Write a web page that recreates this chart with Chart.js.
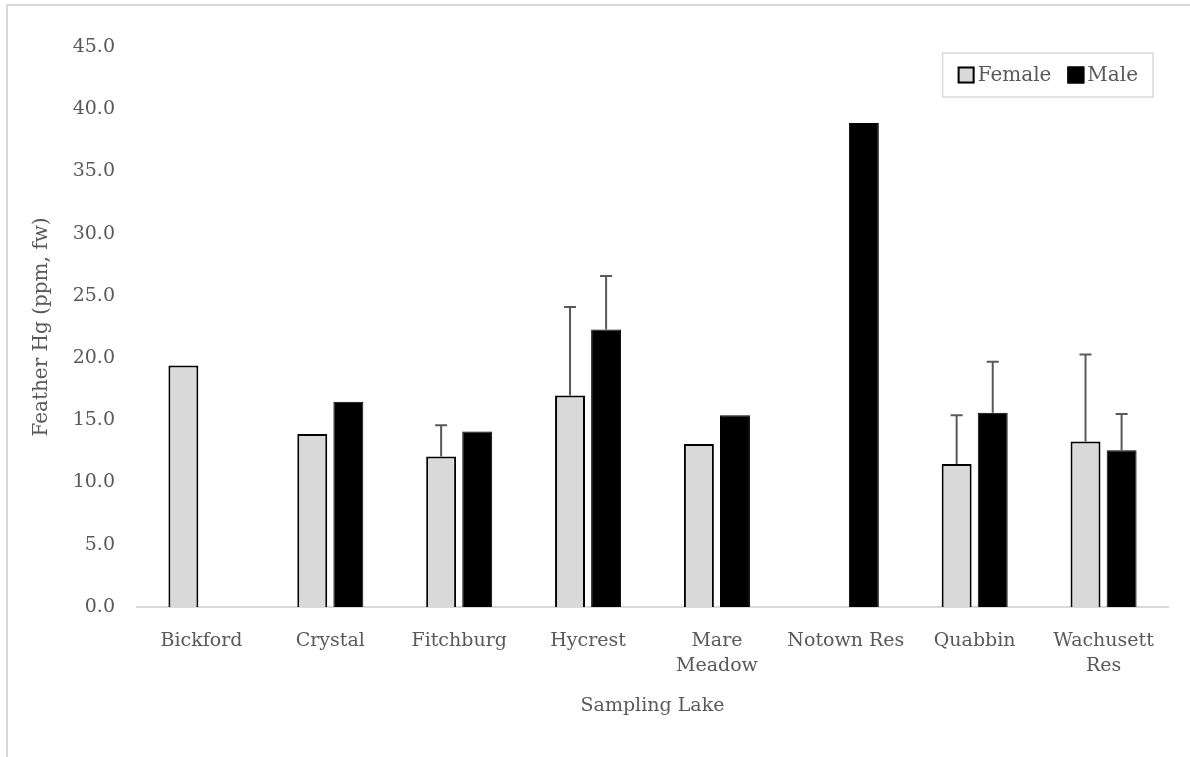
<!DOCTYPE html>
<html>
<head>
<meta charset="utf-8">
<script src="https://cdn.jsdelivr.net/npm/chart.js@4.4.1/dist/chart.umd.min.js"></script>
<style>
  body { margin: 0; background: #fff; }
  #wrap { position: relative; width: 1190px; height: 757px; }
</style>
</head>
<body>
<div id="wrap"><canvas id="hg-chart" width="1190" height="757"></canvas></div>
<script>
const lakes = ["Bickford", "Crystal", "Fitchburg", "Hycrest", ["Mare", "Meadow"], "Notown Res", "Quabbin", ["Wachusett", "Res"]];
const female = [19.4, 13.9, 12.1, 17.0, 13.1, null, 11.5, 13.3];
const male = [null, 16.5, 14.1, 22.3, 15.4, 38.9, 15.6, 12.6];
// upper error (sd), null where no bar shown
const femaleErr = [null, null, 2.5, 7.1, null, null, 3.9, 7.0];
const maleErr = [null, null, null, 4.3, null, null, 4.1, 2.9];
const yTicks = [0, 5, 10, 15, 20, 25, 30, 35, 40, 45];

const FONT = "'DejaVu Serif', serif";
const GREY = "#595959";

const errorBars = {
  id: "errorBars",
  afterDatasetsDraw(chart){
    const ctx = chart.ctx, y = chart.scales.y;
    chart.data.datasets.forEach((ds, di) => {
      const meta = chart.getDatasetMeta(di);
      (ds.errors || []).forEach((e, i) => {
        if (e == null || ds.data[i] == null) return;
        const bar = meta.data[i];
        const top = y.getPixelForValue(ds.data[i] + e);
        ctx.save();
        ctx.strokeStyle = GREY;
        ctx.lineWidth = 2;
        ctx.beginPath();
        ctx.moveTo(bar.x, bar.y);
        ctx.lineTo(bar.x, top);
        ctx.moveTo(bar.x - 6, top);
        ctx.lineTo(bar.x + 6, top);
        ctx.stroke();
        ctx.restore();
      });
    });
  }
};

const frameAndLegend = {
  id: "frameAndLegend",
  beforeDraw(chart){
    const ctx = chart.ctx;
    ctx.save();
    ctx.strokeStyle = "#d9d9d9";
    ctx.lineWidth = 2;
    ctx.beginPath();
    ctx.moveTo(7, 800);
    ctx.lineTo(7, 5);
    ctx.lineTo(1200, 5);
    ctx.stroke();
    ctx.restore();
  },
  afterDraw(chart){
    const ctx = chart.ctx, area = chart.chartArea;
    const right = area.right - 15, top = area.top + 6, h = 44;
    ctx.save();
    ctx.font = "20px " + FONT;
    const sq = 17, gapIn = 3, gapOut = 16, pad = 15;
    const items = chart.data.datasets.map(ds => ({ label: ds.label, fill: ds.backgroundColor, w: ctx.measureText(ds.label).width }));
    let w = pad * 2;
    items.forEach((it, i) => { w += sq + gapIn + it.w + (i ? gapOut : 0); });
    const left = right - w;
    ctx.fillStyle = "#fff";
    ctx.fillRect(left, top, w, h);
    ctx.strokeStyle = "#d9d9d9";
    ctx.lineWidth = 1.5;
    ctx.strokeRect(left, top, w, h);
    let x = left + pad;
    const cy = top + h / 2;
    items.forEach((it, i) => {
      if (i) x += gapOut;
      ctx.fillStyle = it.fill;
      ctx.fillRect(x, cy - sq / 2, sq, sq);
      ctx.strokeStyle = "#000";
      ctx.lineWidth = 2;
      ctx.strokeRect(x + 1, cy - sq / 2 + 1, sq - 2, sq - 2);
      x += sq + gapIn;
      ctx.fillStyle = GREY;
      ctx.textBaseline = "middle";
      ctx.fillText(it.label, x, cy + 1);
      x += it.w;
    });
    ctx.restore();
  }
};

new Chart(document.getElementById("hg-chart"), {
  type: "bar",
  data: {
    labels: lakes,
    datasets: [
      { label: "Female", data: female, errors: femaleErr, backgroundColor: "#d9d9d9", borderColor: "#000", borderWidth: 2 },
      { label: "Male", data: male, errors: maleErr, backgroundColor: "#000", borderColor: "#000", borderWidth: 1 }
    ]
  },
  options: {
    responsive: false,
    animation: false,
    categoryPercentage: 0.56,
    barPercentage: 0.83,
    layout: { padding: { top: 47, right: 22, left: 0, bottom: 0 } },
    plugins: { legend: { display: false }, tooltip: { enabled: false } },
    scales: {
      x: {
        grid: { display: false, drawTicks: false },
        border: { display: true, color: "#d9d9d9", width: 2 },
        ticks: { color: GREY, font: { family: FONT, size: 19, lineHeight: 1.35 }, padding: 21, maxRotation: 0, autoSkip: false },
        title: { display: true, text: "Sampling Lake", color: GREY, font: { family: FONT, size: 19 }, padding: { bottom: 40 } },
        afterFit(s){ s.height = 150; }
      },
      y: {
        min: 0, max: 45,
        grid: { display: false, drawTicks: false },
        border: { display: false },
        afterBuildTicks(s){ s.ticks = yTicks.map(v => ({ value: v })); },
        ticks: { color: GREY, font: { family: FONT, size: 19 }, padding: 22, callback: v => v.toFixed(1) },
        title: { display: true, text: "Feather Hg (ppm, fw)", color: GREY, font: { family: FONT, size: 20 }, padding: { top: 30 } },
        afterFit(s){ s.width = 137; }
      }
    }
  },
  plugins: [errorBars, frameAndLegend]
});
</script>
</body>
</html>
